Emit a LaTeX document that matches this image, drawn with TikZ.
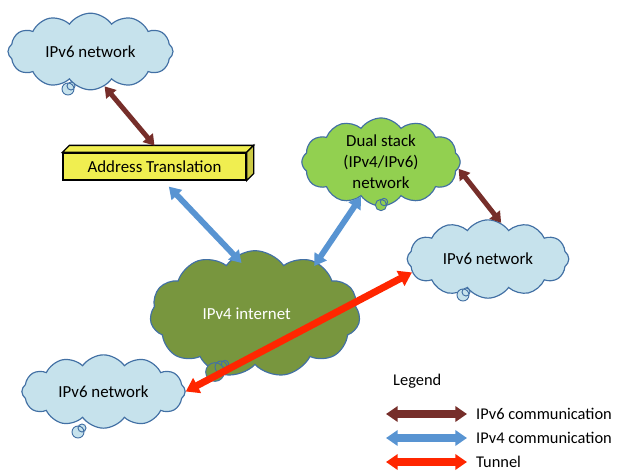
\documentclass[tikz,border=0pt]{standalone}
\usepackage{fontspec}
\setmainfont{Carlito}
\usetikzlibrary{shapes.symbols,arrows.meta}
\definecolor{cloudblue}{RGB}{198,226,236}
\definecolor{cloudedge}{RGB}{66,112,164}
\definecolor{dualgreen}{RGB}{146,208,80}
\definecolor{inetgreen}{RGB}{120,150,62}
\definecolor{natyellow}{RGB}{240,238,80}
\definecolor{vsixbrown}{RGB}{118,46,42}
\definecolor{vfourblue}{RGB}{88,148,210}
\definecolor{tunnelred}{RGB}{255,38,0}
\begin{document}
\begin{tikzpicture}[x=0.03cm, y=-0.03cm, font=\fontsize{14.4}{18}\selectfont,
	net/.style={cloud, cloud puffs=12, cloud puff arc=110, cloud ignores aspect, draw=cloudedge, line width=1pt, inner sep=0pt, align=center},
	bubble/.style={draw=cloudedge, line width=0.8pt},
	vsix/.style={draw=vsixbrown, line width=4.2pt, >={Triangle[length=9pt,width=11pt]}, <->},
	vfour/.style={draw=vfourblue, line width=5pt, >={Triangle[length=10pt,width=12pt]}, <->},
	tunnel/.style={draw=tunnelred, line width=6pt, >={Triangle[length=11pt,width=14pt]}, <->},
	key/.style={line width=6pt, >={Triangle[length=10pt,width=13pt]}},
	keytext/.style={anchor=west, inner sep=0pt, font=\fontsize{14}{17}\selectfont}]
			\useasboundingbox (0,0) rectangle (618,470);
			
			\node (1) [net, fill=cloudblue, minimum width=4.95cm, minimum height=2.3cm] at (90.5,51.5) {IPv6 network};
			\node (3) [net, fill=dualgreen, minimum width=4.75cm, minimum height=2.45cm] at (381,162) {Dual stack\\(IPv4/IPv6)\\network};
			\node (4) [net, fill=cloudblue, minimum width=4.85cm, minimum height=2.35cm] at (488,259) {IPv6 network};
			\node (5) [net, cloud puffs=11, fill=inetgreen, text=white, minimum width=6.3cm, minimum height=3.8cm] at (255,314) {IPv4 internet\hspace*{0.5cm}};
			\node (6) [net, fill=cloudblue, minimum width=4.9cm, minimum height=2.2cm] at (103.5,391.5) {IPv6 network};
			
			\draw[bubble, fill=cloudblue] (68,89) circle (0.18cm) (71,86) circle (0.12cm);
			\draw[bubble, fill=dualgreen] (381,205) circle (0.17cm) (384,202) circle (0.11cm);
			\draw[bubble, fill=cloudblue] (463,295) circle (0.18cm) (466,292) circle (0.12cm);
			\draw[bubble, fill=inetgreen] (215,372) circle (0.28cm) (221,367) circle (0.18cm) (225,364) circle (0.11cm);
			\draw[bubble, fill=cloudblue] (78,432) circle (0.18cm) (82,428) circle (0.12cm);
			
			\node (2) [draw, line width=1.1pt, fill=natyellow, minimum width=5.49cm, minimum height=0.81cm] at (154.5,166.5) {Address Translation};
			\draw[line width=1.1pt, fill=natyellow] (2.north west) -- ++(7,-7) -- ([shift={(7,-7)}]2.north east) -- (2.north east) -- cycle;
			\draw[line width=1.1pt, fill=natyellow!85!black] (2.north east) -- ++(7,-7) -- ([shift={(7,-7)}]2.south east) -- (2.south east) -- cycle;
			
			\draw[vsix] (1.-68) -- ([yshift=0.2cm]2.north);
			\draw[vsix] (3.-5) -- (4.70);
			\draw[vfour, shorten <=7pt, shorten >=-8pt] ([xshift=0.26cm]2.south) -- (5.109);
			\draw[vfour, shorten >=-4pt] (3.-120) -- (5.40);
			\draw[tunnel] (6.0) -- (4.190);
			
			\node (7) [keytext] at (393,381) {Legend};
			\node (8) [keytext] at (476,414) {IPv6 communication};
			\node (9) [keytext] at (476,438) {IPv4 communication};
			\node (10) [keytext] at (476,462) {Tunnel};
			\coordinate (8a) at (386,414);
			\coordinate (8b) at (467,414);
			\coordinate (9a) at (386,438);
			\coordinate (9b) at (467,438);
			\coordinate (10a) at (386,462);
			\coordinate (10b) at (467,462);
			
			\draw[key, vsixbrown, <->] (8a) -- (8b);
			\draw[key, vfourblue, <->] (9a) -- (9b);
			\draw[key, tunnelred, <->] (10a) -- (10b);
		\end{tikzpicture}
\end{document}
